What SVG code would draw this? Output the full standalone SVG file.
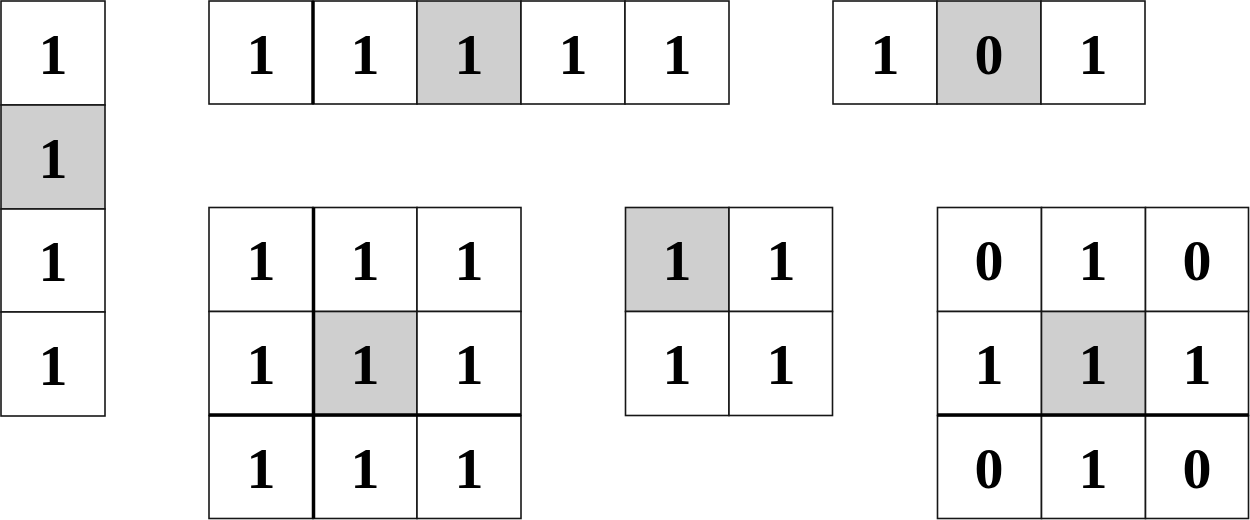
<svg xmlns="http://www.w3.org/2000/svg" width="1250" height="520" viewBox="0 0 1250 520">
<style>
.c{fill:#fff;stroke:#161616;stroke-width:1.6}
.g{fill:#cfcfcf;stroke:#161616;stroke-width:1.6}
.t{font-family:"Liberation Serif","Times New Roman",serif;font-weight:bold;font-size:58px;fill:#000;text-anchor:middle}
.k{stroke:#000;stroke-width:3.5;fill:none}
</style>
<rect width="1250" height="520" fill="#fff"/>
<g id="col4">
<rect class="c" x="1" y="1" width="104" height="104"/>
<rect class="g" x="1" y="105" width="104" height="104"/>
<rect class="c" x="1" y="209" width="104" height="103"/>
<rect class="c" x="1" y="312" width="104" height="104"/>
<text class="t" x="53" y="74">1</text>
<text class="t" x="53" y="178">1</text>
<text class="t" x="53" y="281">1</text>
<text class="t" x="53" y="385">1</text>
</g>
<g id="row5">
<rect class="c" x="209" y="1" width="104" height="103"/>
<rect class="c" x="313" y="1" width="104" height="103"/>
<rect class="g" x="417" y="1" width="104" height="103"/>
<rect class="c" x="521" y="1" width="104" height="103"/>
<rect class="c" x="625" y="1" width="104" height="103"/>
<line class="k" x1="313" y1="1" x2="313" y2="104"/>
<text class="t" x="261" y="74">1</text>
<text class="t" x="365" y="74">1</text>
<text class="t" x="469" y="74">1</text>
<text class="t" x="573" y="74">1</text>
<text class="t" x="677" y="74">1</text>
</g>
<g id="row3">
<rect class="c" x="833" y="1" width="104" height="103"/>
<rect class="g" x="937" y="1" width="104" height="103"/>
<rect class="c" x="1041" y="1" width="104" height="103"/>
<text class="t" x="885" y="74">1</text>
<text class="t" x="989" y="74">0</text>
<text class="t" x="1093" y="74">1</text>
</g>
<g id="grid3a">
<rect class="c" x="209" y="207.5" width="104" height="104"/>
<rect class="c" x="313" y="207.5" width="104" height="104"/>
<rect class="c" x="417" y="207.5" width="104" height="104"/>
<rect class="c" x="209" y="311.5" width="104" height="104"/>
<rect class="g" x="313" y="311.5" width="104" height="104"/>
<rect class="c" x="417" y="311.5" width="104" height="104"/>
<rect class="c" x="209" y="415.5" width="104" height="103"/>
<rect class="c" x="313" y="415.5" width="104" height="103"/>
<rect class="c" x="417" y="415.5" width="104" height="103"/>
<line class="k" x1="313.5" y1="207.5" x2="313.5" y2="518.5"/>
<line class="k" x1="209" y1="415" x2="521" y2="415"/>
<text class="t" x="261" y="280">1</text>
<text class="t" x="365" y="280">1</text>
<text class="t" x="469" y="280">1</text>
<text class="t" x="261" y="384">1</text>
<text class="t" x="365" y="384">1</text>
<text class="t" x="469" y="384">1</text>
<text class="t" x="261" y="488">1</text>
<text class="t" x="365" y="488">1</text>
<text class="t" x="469" y="488">1</text>
</g>
<g id="grid2">
<rect class="g" x="625.5" y="207.5" width="103.5" height="104"/>
<rect class="c" x="729" y="207.5" width="103.5" height="104"/>
<rect class="c" x="625.5" y="311.5" width="103.5" height="104"/>
<rect class="c" x="729" y="311.5" width="103.5" height="104"/>
<text class="t" x="677" y="280">1</text>
<text class="t" x="781" y="280">1</text>
<text class="t" x="677" y="384">1</text>
<text class="t" x="781" y="384">1</text>
</g>
<g id="grid3b">
<rect class="c" x="937.5" y="207.5" width="104" height="104"/>
<rect class="c" x="1041.5" y="207.5" width="104" height="104"/>
<rect class="c" x="1145.5" y="207.5" width="103" height="104"/>
<rect class="c" x="937.5" y="311.5" width="104" height="104"/>
<rect class="g" x="1041.5" y="311.5" width="104" height="104"/>
<rect class="c" x="1145.5" y="311.5" width="103" height="104"/>
<rect class="c" x="937.5" y="415.5" width="104" height="103"/>
<rect class="c" x="1041.5" y="415.5" width="104" height="103"/>
<rect class="c" x="1145.5" y="415.5" width="103" height="103"/>
<line class="k" x1="937.5" y1="415" x2="1248.5" y2="415"/>
<text class="t" x="989" y="280">0</text>
<text class="t" x="1093" y="280">1</text>
<text class="t" x="1197" y="280">0</text>
<text class="t" x="989" y="384">1</text>
<text class="t" x="1093" y="384">1</text>
<text class="t" x="1197" y="384">1</text>
<text class="t" x="989" y="488">0</text>
<text class="t" x="1093" y="488">1</text>
<text class="t" x="1197" y="488">0</text>
</g>
</svg>
